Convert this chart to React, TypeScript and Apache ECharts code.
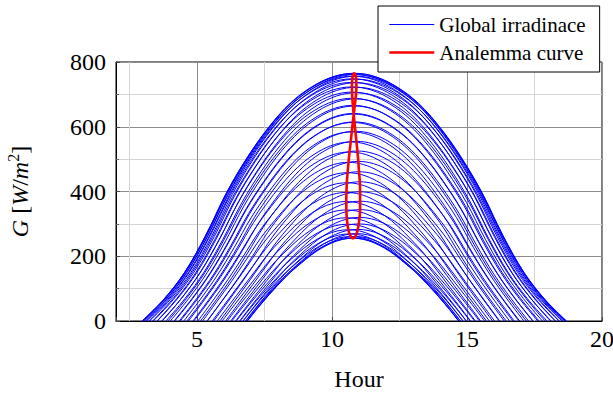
import React, { useEffect, useRef } from "react";
import * as echarts from "echarts";

// One curve per week of the year (clock hour of solar noon, half day length in hours, peak G in W/m^2)
const weekNoonHour = [
  10.86, 10.91, 10.955, 10.99, 11.02, 11.04, 11.04, 11.04, 11.03, 11.0, 10.975, 10.94, 10.905,
  10.867, 10.83, 10.8, 10.773, 10.753, 10.742, 10.737, 10.742, 10.752, 10.77, 10.79, 10.815, 10.838,
  10.862, 10.882, 10.895, 10.902, 10.902, 10.893, 10.872, 10.84, 10.805, 10.77, 10.732, 10.693,
  10.65, 10.612, 10.577, 10.55, 10.535, 10.53, 10.533, 10.548, 10.572, 10.607, 10.648, 10.698, 10.752,
  10.807,
];
const weekHalfDay = [
  3.99, 4.06, 4.16, 4.29, 4.44, 4.61, 4.79, 4.98, 5.18, 5.38, 5.6, 5.81, 6.02, 6.24, 6.45, 6.65, 6.85,
  7.04, 7.22, 7.38, 7.53, 7.65, 7.75, 7.82, 7.85, 7.85, 7.81, 7.75, 7.65, 7.52, 7.37, 7.2, 7.02, 6.83,
  6.63, 6.43, 6.22, 6.01, 5.8, 5.58, 5.37, 5.17, 4.97, 4.78, 4.6, 4.43, 4.28, 4.15, 4.05, 3.99, 3.95,
  3.95,
];
const weekPeakG = [
  261, 270, 283, 300, 320, 344, 370, 399, 430, 461, 493, 525, 555, 586, 615, 641, 666, 688, 707, 723,
  737, 748, 756, 762, 765, 765, 761, 756, 747, 736, 722, 705, 686, 664, 639, 613, 584, 553, 522, 490,
  458, 427, 397, 369, 343, 319, 299, 282, 269, 261, 256, 256,
];
// normalised shape of a day's curve, from sunrise (0) to solar noon (1)
const shapeFraction = [0, 0.1, 0.2, 0.3, 0.4, 0.5, 0.6, 0.7, 0.8, 0.9, 1];
const shapeLongDay = [0, 0.085, 0.195, 0.345, 0.52, 0.665, 0.785, 0.88, 0.945, 0.986, 1];
const shapeShortDay = [0, 0.16, 0.31, 0.45, 0.58, 0.69, 0.795, 0.88, 0.945, 0.986, 1];
const shortestHalfDay = 3.95;
const longestHalfDay = 7.85;

const xMin = 2;
const xMax = 20;
const yMin = 0;
const yMax = 800;
const yStep = 200;
const xMinorLines = [2.5, 7.5, 12.5, 17.5];

const seriesNames = ["Global irradinace", "Analemma curve"];
const seriesColors = ["#0000ff", "#ff0000"];
const seriesWidths = [1, 2.6];

const FONT = "Liberation Serif";

function dayCurve(i: number): number[][] {
  const noon = weekNoonHour[i];
  const half = weekHalfDay[i];
  const peak = weekPeakG[i];
  const w = (half - shortestHalfDay) / (longestHalfDay - shortestHalfDay);
  const shape = shapeLongDay.map((v, j) => w * v + (1 - w) * shapeShortDay[j]);
  const pts: number[][] = [];
  for (let j = 0; j < shapeFraction.length; j++) {
    pts.push([noon - half * (1 - shapeFraction[j]), peak * shape[j]]);
  }
  for (let j = shapeFraction.length - 2; j >= 0; j--) {
    pts.push([noon + half * (1 - shapeFraction[j]), peak * shape[j]]);
  }
  return pts;
}

export default function App() {
  const ref = useRef<HTMLDivElement>(null);

  useEffect(() => {
    if (!ref.current) return;
    const chart = echarts.init(ref.current, undefined, { renderer: "svg" });

    const blueSeries = weekNoonHour.map((_, i) => ({
      type: "line",
      name: seriesNames[0],
      data: dayCurve(i),
      symbol: "none",
      smooth: 0.35,
      silent: true,
      z: 3,
      lineStyle: { color: seriesColors[0], width: seriesWidths[0] },
      itemStyle: { color: seriesColors[0] },
    }));

    const analemma = weekNoonHour.map((x, i) => [x, weekPeakG[i]]);
    analemma.push([weekNoonHour[0], weekPeakG[0]]);

    const option: any = {
      animation: false,
      backgroundColor: "#ffffff",
      textStyle: { fontFamily: FONT, color: "#000" },
      grid: {
        left: 116,
        top: 62,
        width: 486,
        height: 259,
        show: true,
        borderColor: "#000",
        borderWidth: 1,
        backgroundColor: "transparent",
        containLabel: false,
        outerBoundsMode: "none",
      },
      legend: {
        data: seriesNames.map((n, k) => ({
          name: n,
          itemStyle: { opacity: 0, borderWidth: 0 },
          lineStyle: { color: seriesColors[k], width: seriesWidths[k] },
        })),
        orient: "vertical",
        left: 378,
        top: 6,
        itemWidth: 45,
        itemHeight: 14,
        itemGap: 7,
        padding: [8, 14, 9, 10],
        backgroundColor: "#ffffff",
        borderColor: "#000000",
        borderWidth: 1,
        borderRadius: 0,
        selectedMode: false,
        z: 10,
        itemStyle: { opacity: 0, borderWidth: 0 },
        textStyle: { fontFamily: FONT, fontSize: 21, color: "#000", lineHeight: 21 },
      },
      xAxis: {
        type: "value",
        min: xMin,
        max: xMax,
        splitNumber: 4,
        name: "Hour",
        nameLocation: "middle",
        nameGap: 46,
        nameTextStyle: { fontFamily: FONT, fontSize: 24, color: "#000" },
        axisLine: { show: true, lineStyle: { color: "#000", width: 1 } },
        axisTick: { show: true, inside: true, length: 4, lineStyle: { color: "#444" } },
        axisLabel: {
          fontFamily: FONT,
          fontSize: 24,
          color: "#000",
          margin: 6,
          formatter: (v: number) => (v % 5 === 0 ? String(v) : ""),
        },
        splitLine: { show: true, lineStyle: { color: "#8c8c8c", width: 1 } },
      },
      yAxis: {
        type: "value",
        min: yMin,
        max: yMax,
        interval: yStep,
        name: "{i|G} [{i|W}/{i|m}{s|2}]",
        nameLocation: "middle",
        nameGap: 81,
        nameTextStyle: {
          fontFamily: FONT,
          fontSize: 24,
          color: "#000",
          lineHeight: 30,
          rich: {
            i: { fontFamily: FONT, fontSize: 24, fontStyle: "italic", color: "#000", lineHeight: 30 },
            s: { fontFamily: FONT, fontSize: 16, color: "#000", verticalAlign: "top", lineHeight: 30 },
          },
        },
        axisLine: { show: true, lineStyle: { color: "#000", width: 1 } },
        axisTick: { show: true, inside: true, length: 4, lineStyle: { color: "#444" } },
        minorTick: { show: true, splitNumber: 2, length: 3, lineStyle: { color: "#666" } },
        axisLabel: {
          fontFamily: FONT,
          fontSize: 24,
          color: "#000",
          margin: 10,
        },
        splitLine: { show: true, lineStyle: { color: "#8c8c8c", width: 1 } },
        minorSplitLine: { show: true, lineStyle: { color: "#d4d4d4", width: 1 } },
      },
      series: [
        {
          type: "line",
          name: "minor-grid",
          data: [],
          silent: true,
          z: 1,
          markLine: {
            silent: true,
            z: 1,
            symbol: ["none", "none"],
            label: { show: false },
            lineStyle: { color: "#d4d4d4", type: "solid", width: 1 },
            data: xMinorLines.map((v) => ({ xAxis: v })),
          },
        },
        ...blueSeries,
        {
          type: "line",
          name: seriesNames[1],
          data: analemma,
          symbol: "none",
          smooth: 0.5,
          silent: true,
          z: 4,
          lineStyle: { color: seriesColors[1], width: seriesWidths[1] },
          itemStyle: { color: seriesColors[1] },
        },
      ],
    };

    chart.setOption(option);
    return () => chart.dispose();
  }, []);

  return (
    <div
      ref={ref}
      style={{ position: "absolute", left: 0, top: 0, width: 613, height: 396, background: "#fff" }}
    />
  );
}
